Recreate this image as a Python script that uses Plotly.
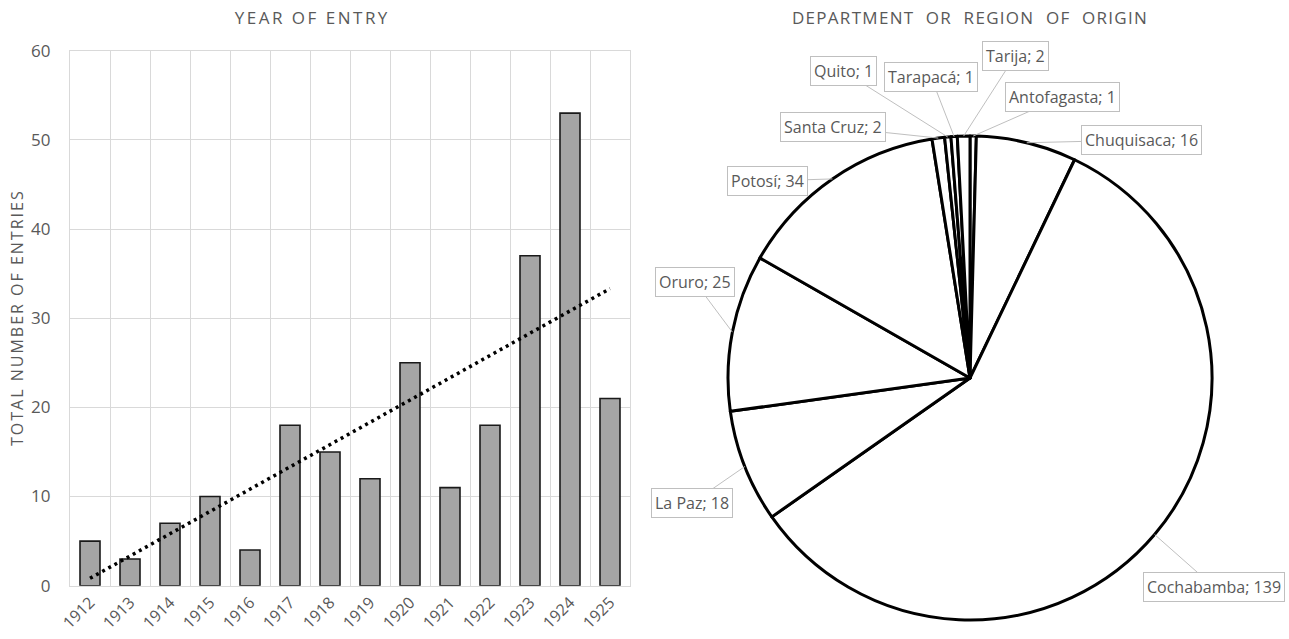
import numpy as np
import plotly.graph_objects as go

# ---------------- data ----------------
years = ["1912", "1913", "1914", "1915", "1916", "1917", "1918",
         "1919", "1920", "1921", "1922", "1923", "1924", "1925"]
entries = [5, 3, 7, 10, 4, 18, 15, 12, 25, 11, 18, 37, 53, 21]

regions = ["Antofagasta", "Chuquisaca", "Cochabamba", "La Paz", "Oruro",
           "Potosí", "Santa Cruz", "Quito", "Tarapacá", "Tarija"]
region_counts = [1, 16, 139, 18, 25, 34, 2, 1, 1, 2]

y_ticks = [0, 10, 20, 30, 40, 50, 60]

# ---------------- layout constants ----------------
W, H = 1289, 639
GRAY_TXT = "#595959"
GRID = "#d9d9d9"
FONT = "Open Sans"

# pie geometry (pixels)
PIE_CX, PIE_CY, PIE_R = 970, 378, 242
# label box centres (pixels), same order as regions
label_boxes = [(1062, 97), (1141, 140), (1214, 587), (692, 503), (695, 282),
               (768, 181), (833, 127), (843, 71), (931, 77), (1015, 56)]

# linear trend through bar values
xi = np.arange(len(entries))
slope, intercept = np.polyfit(xi, entries, 1)
trend = slope * xi + intercept

fig = go.Figure()

fig.add_trace(go.Bar(
    x=years, y=entries,
    marker=dict(color="#a5a5a5", line=dict(color="#1a1a1a", width=1.6)),
    showlegend=False, xaxis="x", yaxis="y",
))
fig.add_trace(go.Scatter(
    x=years, y=trend, mode="lines",
    line=dict(color="black", width=3.5, dash="3px,4px"),
    showlegend=False, xaxis="x", yaxis="y", hoverinfo="skip",
))

fig.add_trace(go.Pie(
    labels=regions, values=region_counts, sort=False,
    direction="clockwise", rotation=0,
    marker=dict(colors=["white"] * len(regions), line=dict(color="black", width=3)),
    textinfo="none", showlegend=False,
    domain=dict(x=[(PIE_CX - PIE_R) / W, (PIE_CX + PIE_R) / W],
                y=[(H - PIE_CY - PIE_R) / H, (H - PIE_CY + PIE_R) / H]),
))

annotations = []
total = sum(region_counts)
cum = 0
for name, v, (bx, by) in zip(regions, region_counts, label_boxes):
    mid = (cum + v / 2) / total * 2 * np.pi
    cum += v
    tx = PIE_CX + PIE_R * np.sin(mid)
    ty = PIE_CY - PIE_R * np.cos(mid)
    annotations.append(dict(
        x=tx / W, y=1 - ty / H, xref="paper", yref="paper",
        ax=bx - tx, ay=by - ty, axref="pixel", ayref="pixel",
        showarrow=True, arrowhead=0, arrowwidth=1, arrowcolor="#bfbfbf",
        text=f"{name}; {v}", font=dict(family=FONT, size=16, color=GRAY_TXT),
        bordercolor="#bfbfbf", borderwidth=1, borderpad=3, bgcolor="white",
    ))

annotations += [
    dict(x=312 / W, y=1 - 18 / H, xref="paper", yref="paper", showarrow=False,
         xanchor="center", yanchor="middle",
         text="YEAR OF ENTRY", font=dict(family=FONT, size=17, color=GRAY_TXT)),
    dict(x=970 / W, y=1 - 18 / H, xref="paper", yref="paper", showarrow=False,
         xanchor="center", yanchor="middle",
         text="DEPARTMENT  OR  REGION  OF  ORIGIN",
         font=dict(family=FONT, size=17, color=GRAY_TXT)),
    dict(x=17 / W, y=1 - 318 / H, xref="paper", yref="paper", showarrow=False,
         xanchor="center", yanchor="middle",
         textangle=-90, text="TOTAL NUMBER OF ENTRIES",
         font=dict(family=FONT, size=16, color=GRAY_TXT)),
]

fig.update_layout(
    width=W, height=H, autosize=False,
    margin=dict(l=0, r=0, t=0, b=0, autoexpand=False),
    paper_bgcolor="white", plot_bgcolor="white",
    font=dict(family=FONT, color=GRAY_TXT),
    bargap=0.5,
    xaxis=dict(domain=[70 / W, 630 / W], type="category", tickson="boundaries",
               showgrid=True, gridcolor=GRID, gridwidth=1.3,
               showline=True, linecolor=GRID, linewidth=1.3, mirror=True,
               tickangle=-45, ticks="outside", ticklen=21, tickcolor="rgba(0,0,0,0)",
               tickfont=dict(family=FONT, size=16, color=GRAY_TXT),
               zeroline=False, fixedrange=True, automargin=False),
    yaxis=dict(domain=[(H - 585.7) / H, (H - 50.7) / H], range=[0, 60],
               tickvals=y_ticks, showgrid=True, gridcolor=GRID, gridwidth=1.3,
               showline=True, linecolor=GRID, linewidth=1.3, mirror=True,
               ticks="outside", ticklen=15, tickcolor="rgba(0,0,0,0)",
               tickfont=dict(family=FONT, size=17, color=GRAY_TXT),
               zeroline=False, fixedrange=True, automargin=False),
    annotations=annotations,
)

post = """
var gd = document.getElementById('{plot_id}');
gd.querySelectorAll('.annotation-text').forEach(function(t){
  var s = t.textContent;
  if (s === 'YEAR OF ENTRY') { t.style.letterSpacing = '2.5px'; }
  else if (s.indexOf('DEPARTMENT') === 0) { t.style.letterSpacing = '1.3px'; }
  else if (s.indexOf('TOTAL') === 0) { t.style.letterSpacing = '2px'; }
});
"""
fig.write_html("out.html", post_script=post)
